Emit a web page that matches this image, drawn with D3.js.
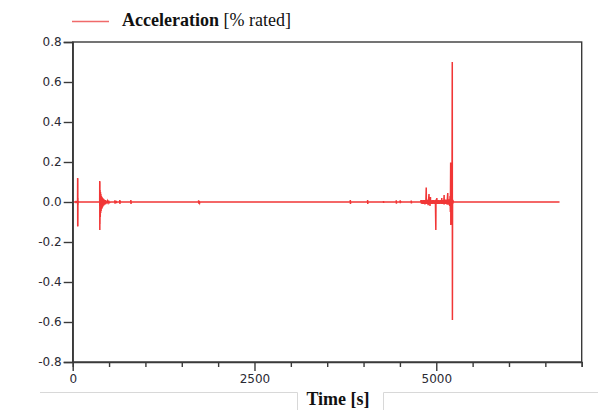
<!DOCTYPE html>
<html><head><meta charset="utf-8">
<script src="https://cdn.jsdelivr.net/npm/d3@7"></script>
<style>body{margin:0;background:#fff;overflow:hidden}</style>
</head><body><svg id="c" width="598" height="410"></svg>
<script>
// ---- data ----
const time = [0,44,45,46,47,67,68,69,70,71,72,73,75,77,
 371,372,373,374,375,377,379,382,385,388,391,395,399,403,407,412,417,422,428,434,440,447,454,462,470,479,488,498,508,520,
 578,580,582,584,598,600,602,604,646,648,650,652,654,798,800,802,804,
 1730,1732,1734,1736,1745,1747,3816,3818,3820,3822,4054,4056,4058,4060,
 4272,4274,4276,4278,4448,4450,4452,4454,4502,4504,4506,4510,4512,4654,4656,4658,4660,
 4786,4790,4796,4802,4808,4814,4820,4826,4832,4838,4844,4850,4856,4862,4864,4870,4876,4882,4888,4894,4900,4902,4908,4914,4920,4922,4928,4934,4940,4946,4952,4958,4964,4970,4976,4982,4988,4994,4996,5002,5008,5010,5016,5022,5028,5034,5040,5046,5052,5058,5064,5070,5076,5078,5084,5090,5096,5102,5108,5110,5116,5122,5128,5134,5140,5146,5152,5158,5160,5166,5172,5178,5184,5190,5194,5198,5200,5202,5204,5206,5208,5212,5216,5220,5222,5224,5228,5234,5240,6695];
const accel = [0,0,0.006,-0.006,0,0,0.12,-0.123,0.118,-0.12,0.02,-0.015,0.005,0,
 0,0.105,-0.14,0.1,-0.11,0.06,-0.075,0.05,-0.055,0.04,-0.045,0.03,-0.035,0.025,-0.028,0.02,-0.022,0.016,-0.017,0.012,-0.013,0.009,-0.01,0.007,-0.007,0.005,-0.005,0.003,-0.003,0,
 0,0.008,-0.008,0,0,0.006,-0.006,0,0,0.01,-0.01,0.006,0,0,0.01,-0.01,0,
 0,0.008,-0.008,0.004,-0.004,0,0,0.01,-0.01,0,0,0.01,-0.01,0,
 0,0.005,-0.005,0,0,0.008,-0.008,0,0,0.008,-0.006,0.004,0,0,0.007,-0.007,0,
 0,0.01,-0.008,0.009,-0.01,0.008,-0.009,0.01,-0.008,0.009,-0.012,0.01,-0.01,0.073,-0.01,0.012,-0.01,0.01,-0.016,0.011,0.04,-0.012,0.01,-0.02,0.025,-0.01,0.009,-0.01,0.008,-0.009,0.01,-0.008,0.009,-0.01,0.008,-0.009,0.01,-0.14,0.012,-0.01,0.02,-0.01,0.009,-0.01,0.01,-0.009,0.008,-0.01,0.009,-0.008,0.01,-0.01,0.02,-0.009,0.01,-0.01,0.009,-0.011,0.035,-0.012,0.01,-0.01,0.012,-0.01,0.011,-0.012,0.012,0.045,-0.014,0.012,-0.013,0.014,-0.02,0.03,-0.05,0.197,-0.115,0.19,-0.11,0.15,-0.1,0.02,-0.02,0.7,-0.59,0.01,-0.008,0.004,0,0];
const xTicks = [0,500,1000,1500,2000,2500,3000,3500,4000,4500,5000,5500,6000,6500,7000];
const xLabels = [0,2500,5000];
const yTicks = [-0.8,-0.6,-0.4,-0.2,0.0,0.2,0.4,0.6,0.8];
const seriesName = "Acceleration";
const seriesUnit = " [% rated]";
const xTitle = "Time [s]";

// ---- layout ----
const L = 72.7, R = 581.7, T = 42, B = 362;
const svg = d3.select("#c");
const x = d3.scaleLinear().domain([0,7000]).range([L,R]);
const y = d3.scaleLinear().domain([-0.8,0.8]).range([B,T]);
const axisCol = "#3a3a3a";
const red = "#f02020";
const tickFont = "'DejaVu Sans',Verdana,sans-serif";

// frame
svg.append("rect").attr("x",L).attr("y",T).attr("width",R-L).attr("height",B-T)
  .attr("fill","none").attr("stroke",axisCol).attr("stroke-width",1.4);

// data line
const pts = time.map((t,i)=>[t,accel[i]]);
svg.append("path").datum(pts)
  .attr("d", d3.line().x(d=>x(d[0])).y(d=>y(d[1])))
  .attr("fill","none").attr("stroke",red).attr("stroke-width",1.5)
  .attr("stroke-opacity",0.9).attr("stroke-linejoin","miter");

// y axis
const fmt = v => (v<0?"-":"") + Math.abs(v).toFixed(1);
const ya = svg.append("g").attr("transform",`translate(${L},0)`)
  .call(d3.axisLeft(y).tickValues(yTicks).tickSize(9).tickPadding(2).tickFormat(fmt));
ya.select(".domain").attr("stroke",axisCol).attr("stroke-width",1.4);
ya.selectAll(".tick line").attr("stroke",axisCol).attr("stroke-width",1.4);
ya.selectAll(".tick text").attr("fill","#2a2a33").attr("font-family",tickFont).attr("font-size",12);

// x axis
const xa = svg.append("g").attr("transform",`translate(0,${B})`)
  .call(d3.axisBottom(x).tickValues(xTicks).tickSize(5).tickPadding(7)
    .tickFormat(d => xLabels.includes(d) ? String(d) : ""));
xa.select(".domain").attr("stroke",axisCol).attr("stroke-width",1.4);
xa.selectAll(".tick line").attr("stroke",axisCol).attr("stroke-width",1.4)
  .attr("y2", d => xLabels.includes(d) ? 9 : 5);
xa.selectAll(".tick text").attr("fill","#2a2a33").attr("font-family",tickFont).attr("font-size",12);
ya.attr("font-size",12).attr("font-family",tickFont);
xa.attr("font-size",12).attr("font-family",tickFont);

// legend
svg.append("line").attr("x1",72).attr("x2",109).attr("y1",21.5).attr("y2",21.5)
  .attr("stroke","#f06a6a").attr("stroke-width",1.4);
const lt = svg.append("text").attr("x",122).attr("y",26)
  .style("font-family","'Liberation Serif','Times New Roman',serif").style("font-size","18px").attr("fill","#111");
lt.append("tspan").attr("font-weight","bold").text(seriesName);
lt.append("tspan").text(seriesUnit);

// x title box
const g = "#d8d8d8";
svg.append("path").attr("d",`M40,392.5H297.5V410M383.5,410V392.5H598`)
  .attr("fill","none").attr("stroke",g).attr("stroke-width",1);
svg.append("text").attr("x",338).attr("y",405).attr("text-anchor","middle")
  .style("font-family","'Liberation Serif','Times New Roman',serif").style("font-size","18px")
  .attr("font-weight","bold").attr("fill","#111").text(xTitle);
</script></body></html>
